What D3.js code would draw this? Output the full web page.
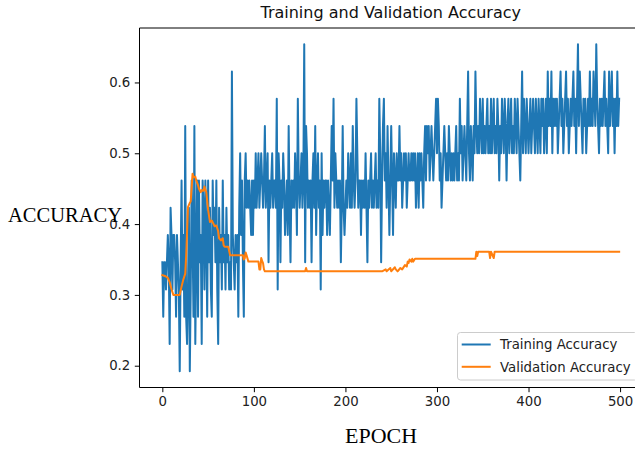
<!DOCTYPE html>
<html>
<head>
<meta charset="utf-8">
<script src="https://cdn.jsdelivr.net/npm/d3@7"></script>
<style>
html,body{margin:0;padding:0;background:#fff;}
svg{display:block;}
</style>
</head>
<body>
<svg id="chart" width="635" height="449"></svg>
<script>
// Training accuracy numerators (accuracy = k / 26), one per epoch 0..499
const trainK = [
9,7,9,9,8,9,10,9,6,11,
10,8,10,10,9,7,10,9,8,5,
9,12,8,10,7,14,7,6,8,11,
5,8,12,10,7,14,6,9,12,7,
12,9,10,6,12,11,8,12,10,7,
12,9,11,8,7,12,10,11,9,12,
8,6,11,9,10,8,12,9,10,8,
11,9,10,8,9,8,16,10,9,8,
10,9,10,7,11,13,10,12,9,7,
12,13,11,12,11,12,11,10,12,10,
12,11,13,11,12,13,11,12,13,12,
11,12,14,11,12,13,9,12,11,12,
13,11,12,12,11,15,8,13,12,9,
12,11,13,12,10,11,12,10,14,11,
9,12,11,12,11,13,12,10,15,12,
11,12,13,11,12,17,9,14,13,11,
12,11,12,9,12,13,11,14,10,12,
13,11,12,8,13,10,12,11,12,12,
10,12,11,10,12,14,12,15,11,13,
12,11,12,11,12,9,11,14,11,10,
11,12,11,13,12,11,13,11,14,12,
11,12,15,13,11,12,12,10,12,11,
12,11,13,11,9,12,11,12,13,11,
12,11,12,13,11,12,11,15,13,9,
12,14,15,12,13,11,14,12,10,12,
14,12,10,13,12,11,13,12,12,14,
12,13,11,12,13,12,13,11,12,13,
12,12,13,12,13,12,13,11,12,13,
11,13,12,13,12,11,13,14,12,14,
13,14,12,13,14,13,12,13,14,15,
13,15,14,12,13,11,12,13,14,13,
12,13,12,14,13,12,13,12,13,12,
13,14,12,13,12,15,13,14,12,13,
14,13,12,14,16,13,12,14,13,12,
14,13,16,14,13,14,13,15,14,13,
15,13,14,13,14,15,13,14,13,15,
13,14,15,13,14,13,15,14,12,14,
13,15,14,13,15,14,12,14,15,13,
14,15,13,14,13,15,14,13,15,14,
13,12,14,16,13,15,14,13,15,14,
13,14,15,13,14,15,14,13,15,14,
13,15,14,13,15,14,15,13,14,15,
13,16,14,15,14,16,13,15,14,15,
14,15,13,14,15,16,14,15,13,14,
15,16,14,15,13,14,15,14,15,16,
14,15,13,15,17,14,16,15,14,13,
15,14,15,13,14,15,14,16,14,15,
14,16,15,14,17,15,14,13,15,14,
15,14,15,16,14,15,14,13,16,14,
15,16,14,15,13,15,14,16,14,15
];
const trainDenom = 26;

// Validation accuracy read as (epoch, value) points; flat stretches listed by their ends
const valEpochs = [0,2,4,6,8,10,12,19,21,23,25,26,28,30,31,33,34,36,37,39,40,42,43,45,46,48,50,52,54,56,57,59,61,62,64,66,67,68,72,74,88,89,90,91,92,94,105,106,107,108,109,110,111,112,156,157,158,240,244,245,249,250,254,255,257,260,262,265,267,268,269,270,272,273,274,276,342,343,344,345,357,358,359,362,363,499];
const valValues = [0.328,0.327,0.326,0.324,0.318,0.308,0.300,0.300,0.312,0.322,0.330,0.354,0.424,0.430,0.432,0.471,0.466,0.467,0.462,0.455,0.450,0.445,0.448,0.447,0.453,0.445,0.420,0.403,0.405,0.400,0.397,0.398,0.390,0.380,0.377,0.380,0.370,0.368,0.368,0.356,0.356,0.350,0.352,0.360,0.356,0.347,0.347,0.336,0.336,0.352,0.348,0.345,0.336,0.3333,0.3333,0.338,0.3333,0.3333,0.336,0.3333,0.338,0.3333,0.339,0.336,0.3333,0.338,0.336,0.342,0.340,0.347,0.345,0.350,0.347,0.351,0.347,0.351,0.351,0.361,0.355,0.361,0.361,0.352,0.361,0.352,0.361,0.3611];

const xTicks = [0,100,200,300,400,500];
const yTicks = [0.2,0.3,0.4,0.5,0.6];
const seriesNames = ["Training Accuracy","Validation Accuracy"];
const seriesColors = ["#1f77b4","#ff7f0e"];

const trainData = trainK.map((k,i)=>({e:i, v:k/trainDenom}));
const valData = valEpochs.map((e,i)=>({e:e, v:valValues[i]}));

const svg = d3.select("#chart");
const L = 139.5, R = 642, T = 28, B = 387.5;

const x = d3.scaleLinear().domain([-24.95, 523.95]).range([L, R]);
const y = d3.scaleLinear().domain([0.16923, 0.67692]).range([B, T]);

const fontSans = "'DejaVu Sans', sans-serif";
const tickFont = 13.3;

// data lines
const line = d3.line().x(d=>x(d.e)).y(d=>y(d.v));
svg.append("path").datum(trainData).attr("d", line)
  .attr("fill","none").attr("stroke",seriesColors[0]).attr("stroke-width",2)
  .attr("stroke-linejoin","round").attr("stroke-linecap","square");
svg.append("path").datum(valData).attr("d", line)
  .attr("fill","none").attr("stroke",seriesColors[1]).attr("stroke-width",2)
  .attr("stroke-linejoin","round").attr("stroke-linecap","square");

// axes
const xAxis = d3.axisBottom(x).tickValues(xTicks).tickSize(4.7).tickPadding(4.5).tickFormat(d3.format("d"));
const gx = svg.append("g").attr("transform",`translate(0,${B})`).call(xAxis);
const yAxis = d3.axisLeft(y).tickValues(yTicks).tickSize(4.7).tickPadding(4.5).tickFormat(d3.format(".1f"));
const gy = svg.append("g").attr("transform",`translate(${L},0)`).call(yAxis);
[gx,gy].forEach(g=>{
  g.select(".domain").remove();
  g.selectAll("line").attr("stroke","#000").attr("stroke-width",1);
  g.selectAll("text").attr("font-family",fontSans).attr("font-size",tickFont).attr("fill","#222");
});

// spines
svg.append("path").attr("d",`M${L},${B}V${T}H${R}V${B}Z`)
  .attr("fill","none").attr("stroke","#000").attr("stroke-width",1);

// title
svg.append("text").attr("x",(L+R)/2).attr("y",18).attr("text-anchor","middle")
  .attr("font-family",fontSans).attr("font-size",16).attr("fill","#111").text("Training and Validation Accuracy");

// axis labels (serif)
svg.append("text").attr("x",8).attr("y",221.7)
  .attr("font-family","'Liberation Serif', serif").attr("font-size",20)
  .attr("textLength",114).attr("lengthAdjust","spacingAndGlyphs").text("ACCURACY");
svg.append("text").attr("x",345).attr("y",443.3)
  .attr("font-family","'Liberation Serif', serif").attr("font-size",20)
  .attr("textLength",72).attr("lengthAdjust","spacingAndGlyphs").text("EPOCH");

// legend
const lg = svg.append("g");
lg.append("rect").attr("x",457.5).attr("y",332.5).attr("width",180).attr("height",47.5).attr("rx",3)
  .attr("fill","#fff").attr("fill-opacity",0.8).attr("stroke","#ccc").attr("stroke-width",1);
seriesNames.forEach((n,i)=>{
  const yy = 344.5 + i*22.3;
  lg.append("line").attr("x1",461.7).attr("x2",490.7).attr("y1",yy).attr("y2",yy)
    .attr("stroke",seriesColors[i]).attr("stroke-width",2);
  lg.append("text").attr("x",500).attr("y",yy+4.8).attr("font-family",fontSans).attr("font-size",tickFont)
    .attr("fill","#222").text(n);
});
</script>
</body>
</html>
